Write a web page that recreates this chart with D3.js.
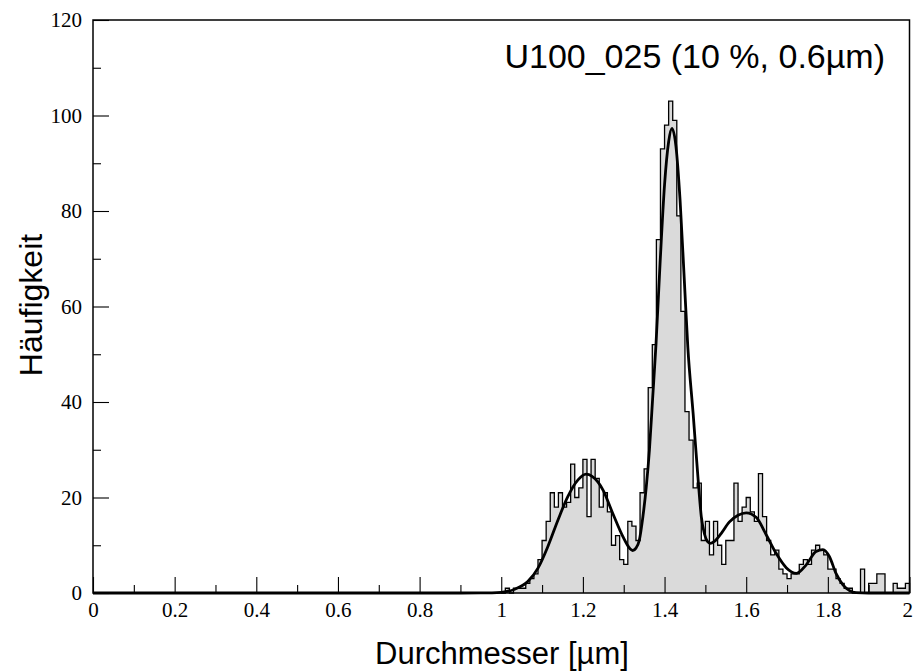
<!DOCTYPE html>
<html>
<head>
<meta charset="utf-8">
<script src="https://cdn.jsdelivr.net/npm/d3@7"></script>
<style>
  body { margin: 0; background: #ffffff; }
</style>
</head>
<body>
<svg id="chart" width="913" height="672"></svg>
<script>
// Histogram of particle diameters: bins of 0.01 µm starting at 1.00 µm
const binStart = 1.00;
const binWidth = 0.01;
const counts = [
  0, 1, 0, 1, 1, 1, 2, 3, 4, 7,          // 1.00 – 1.09
  11, 15, 21, 18, 21, 18, 19, 27, 20, 22, // 1.10 – 1.19
  28, 16, 28, 24, 18, 21, 17, 10, 12, 7,  // 1.20 – 1.29
  6, 15, 14, 11, 21, 26, 43, 52, 74, 93,  // 1.30 – 1.39
  98, 103, 99, 79, 59, 38, 32, 22, 23, 11,// 1.40 – 1.49
  15, 8, 15, 10, 6, 11, 11, 23, 15, 18,   // 1.50 – 1.59
  20, 17, 15, 25, 16, 11, 8, 9, 5, 4,     // 1.60 – 1.69
  3, 4, 4, 6, 7, 6, 9, 10, 9, 8,          // 1.70 – 1.79
  5, 5, 3, 2, 1, 1, 0, 0, 5, 0,           // 1.80 – 1.89
  2, 2, 4, 4, 0, 0, 2, 1, 1, 2            // 1.90 – 1.99
];

// Fitted distribution curve (diameter in µm, frequency)
const fitX = [0, 0.90, 0.95, 1.00, 1.033, 1.065, 1.09, 1.114, 1.139, 1.163, 1.188, 1.208,
  1.237, 1.249, 1.273, 1.298, 1.315, 1.322, 1.33, 1.338, 1.347, 1.355, 1.363, 1.371, 1.379,
  1.389, 1.40, 1.41, 1.418, 1.428, 1.438, 1.448, 1.457, 1.47, 1.482, 1.49, 1.498, 1.505,
  1.512, 1.522, 1.539, 1.559, 1.58, 1.60, 1.625, 1.649, 1.674, 1.698, 1.723, 1.747, 1.771,
  1.788, 1.804, 1.82, 1.837, 1.853, 1.869, 1.90, 2.00];
const fitY = [0, 0, 0.02, 0.15, 0.8, 2.4, 5.2, 9.7, 15.3, 20.2, 23.7, 24.9,
  23.2, 21.6, 16.7, 11.8, 9.3, 8.9, 9.4, 11, 16, 22, 30, 41, 52,
  69, 85.5, 94.5, 97.3, 93.5, 82.3, 66.2, 51.5, 37.6, 24, 16, 12.3, 10.8,
  10.4, 10.8, 12.5, 14.9, 16.3, 16.8, 15.8, 12.2, 8.2, 5.3, 4.1, 5.9, 8.7,
  9.1, 7.6, 4.1, 1.7, 0.5, 0.1, 0, 0];

// Axis ticks
const xMajorTicks = [0, 0.2, 0.4, 0.6, 0.8, 1, 1.2, 1.4, 1.6, 1.8, 2];
const xTickLabels = ["0", "0.2", "0.4", "0.6", "0.8", "1", "1.2", "1.4", "1.6", "1.8", "2"];
const xMinorTicks = [0.1, 0.3, 0.5, 0.7, 0.9, 1.1, 1.3, 1.5, 1.7, 1.9];
const yMajorTicks = [0, 20, 40, 60, 80, 100, 120];
const yTickLabels = ["0", "20", "40", "60", "80", "100", "120"];
const yMinorTicks = [10, 30, 50, 70, 90, 110];

const titleText = "U100_025 (10 %, 0.6\u00B5m)";
const xTitle = "Durchmesser [\u00B5m]";
const yTitle = "H\u00E4ufigkeit";

const svg = d3.select("#chart");
const plot = { left: 93, right: 909.5, top: 20, bottom: 593 };

const x = d3.scaleLinear().domain([0, 2]).range([plot.left, plot.right]);
const y = d3.scaleLinear().domain([0, 120]).range([plot.bottom, plot.top]);

// Histogram: filled steps plus black outline
const stepPts = [[binStart, 0]];
counts.forEach((c, i) => {
  const x0 = binStart + i * binWidth;
  stepPts.push([x0, c], [x0 + binWidth, c]);
});
stepPts.push([binStart + counts.length * binWidth, 0]);

svg.append("path")
  .attr("d", d3.area().x(d => x(d[0])).y0(y(0)).y1(d => y(d[1]))(stepPts))
  .attr("fill", "#dadada");

svg.append("path")
  .attr("d", d3.line().x(d => x(d[0])).y(d => y(d[1]))(stepPts))
  .attr("fill", "none")
  .attr("stroke", "#000")
  .attr("stroke-width", 1.3)
  .attr("stroke-linejoin", "miter");

// Fitted curve
svg.append("path")
  .attr("d", d3.line().x((d, i) => x(fitX[i])).y(d => y(d)).curve(d3.curveMonotoneX)(fitY))
  .attr("fill", "none")
  .attr("stroke", "#000")
  .attr("stroke-width", 2.8)
  .attr("stroke-linejoin", "round");

// Axes (ticks pointing inward)
const serif = "'Liberation Serif', 'Times New Roman', serif";
const sans = "'Liberation Sans', Arial, Helvetica, sans-serif";

const xAxis = svg.append("g").attr("transform", `translate(0,${plot.bottom})`)
  .call(d3.axisBottom(x).tickValues(xMajorTicks).tickSize(-16).tickPadding(9)
    .tickFormat((d, i) => xTickLabels[i]));
const xMinor = svg.append("g").attr("transform", `translate(0,${plot.bottom})`)
  .call(d3.axisBottom(x).tickValues(xMinorTicks).tickSize(-8).tickFormat(""));
const yAxis = svg.append("g").attr("transform", `translate(${plot.left},0)`)
  .call(d3.axisLeft(y).tickValues(yMajorTicks).tickSize(-16).tickPadding(11)
    .tickFormat((d, i) => yTickLabels[i]));
const yMinor = svg.append("g").attr("transform", `translate(${plot.left},0)`)
  .call(d3.axisLeft(y).tickValues(yMinorTicks).tickSize(-8).tickFormat(""));

[xAxis, xMinor, yAxis, yMinor].forEach(g => {
  g.select(".domain").remove();
  g.selectAll(".tick line").attr("stroke", "#000").attr("stroke-width", 1.1);
  g.selectAll("text").attr("font-family", serif).attr("font-size", 21).attr("fill", "#000");
});

// The last x label sits at the page edge: keep it inside the page
xAxis.selectAll(".tick text").filter(d => d === 2)
  .attr("text-anchor", "end").attr("x", 3);

// Frame
svg.append("rect")
  .attr("x", plot.left).attr("y", plot.top)
  .attr("width", plot.right - plot.left).attr("height", plot.bottom - plot.top)
  .attr("fill", "none").attr("stroke", "#000").attr("stroke-width", 1.5);

// Titles
svg.append("text")
  .attr("x", 885).attr("y", 68)
  .attr("text-anchor", "end")
  .attr("font-family", sans).attr("font-size", 34)
  .text(titleText);

svg.append("text")
  .attr("x", 502).attr("y", 664)
  .attr("text-anchor", "middle")
  .attr("font-family", sans).attr("font-size", 31)
  .text(xTitle);

svg.append("text")
  .attr("transform", "translate(42,305) rotate(-90)")
  .attr("text-anchor", "middle")
  .attr("font-family", sans).attr("font-size", 32)
  .text(yTitle);
</script>
</body>
</html>
